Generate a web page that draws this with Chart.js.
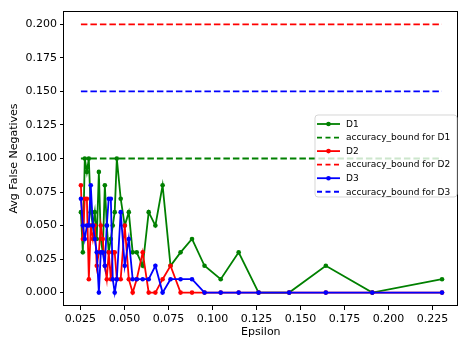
<!DOCTYPE html>
<html>
<head>
<meta charset="utf-8">
<script src="https://cdn.jsdelivr.net/npm/chart.js@4/dist/chart.umd.min.js"></script>
<style>
html,body{margin:0;padding:0;background:#fff;}
canvas{display:block;}
</style>
</head>
<body>
<canvas id="c" width="460" height="339"></canvas>
<script>
const epsilon = [0.0253,0.0264,0.0275,0.0287,0.0298,0.0309,0.0321,0.0332,0.0343,0.0355,0.0366,0.0377,0.0389,0.0400,0.0411,0.0423,0.0434,0.0445,0.0457,0.0479,0.0502,0.0525,0.0547,0.0570,0.0604,0.0638,0.0676,0.0717,0.0762,0.0819,0.0884,0.0955,0.1047,0.1149,0.1262,0.1436,0.1644,0.1908,0.2304];
const d1 = [0.06,0.03,0.10,0.09,0.10,0.06,0.05,0.06,0.04,0.09,0.04,0.03,0.08,0.05,0.03,0.04,0.05,0.06,0.10,0.07,0.05,0.06,0.03,0.03,0.02,0.06,0.05,0.08,0.02,0.03,0.04,0.02,0.01,0.03,0.00,0.00,0.02,0.00,0.01];
const d2 = [0.08,0.04,0.07,0.07,0.01,0.05,0.04,0.05,0.02,0.03,0.05,0.04,0.02,0.01,0.03,0.01,0.03,0.03,0.01,0.01,0.05,0.01,0.00,0.01,0.03,0.00,0.00,0.01,0.02,0.00,0.00,0.00,0.00,0.00,0.00,0.00,0.00,0.00,0.00];
const d3 = [0.07,0.05,0.04,0.05,0.05,0.08,0.05,0.04,0.03,0.00,0.03,0.03,0.02,0.05,0.07,0.07,0.01,0.00,0.01,0.06,0.02,0.04,0.01,0.01,0.01,0.01,0.02,0.00,0.01,0.01,0.01,0.00,0.00,0.00,0.00,0.00,0.00,0.00,0.00];
const bounds = [0.10, 0.20, 0.15];
const seriesNames = ['D1','D2','D3'];
const seriesColors = ['#008000','#ff0000','#0000ff'];
const xTicks = [0.025,0.050,0.075,0.100,0.125,0.150,0.175,0.200,0.225];
const yTicks = [0.000,0.025,0.050,0.075,0.100,0.125,0.150,0.175,0.200];

const FONT = "'DejaVu Sans', sans-serif";
const series = [d1,d2,d3];
const datasets = [];
series.forEach((vals,i)=>{
  datasets.push({
    label: seriesNames[i],
    data: epsilon.map((x,k)=>({x:x,y:vals[k]})),
    borderColor: seriesColors[i], backgroundColor: seriesColors[i],
    borderWidth: 1.8, pointRadius: 2.3, pointBorderWidth: 0, pointHoverRadius: 2.3,
    tension: 0, fill: false, order: 10 - 2*i, _dash: false
  });
  datasets.push({
    label: 'accuracy_bound for ' + seriesNames[i],
    data: [{x:epsilon[0],y:bounds[i]},{x:epsilon[epsilon.length-1],y:bounds[i]}],
    borderColor: seriesColors[i], backgroundColor: seriesColors[i],
    borderWidth: 1.8, borderDash: [6.5,3], pointRadius: 0,
    tension: 0, fill: false, order: 9 - 2*i, _dash: true
  });
});

const framePlugin = {
  id: 'frame',
  afterDatasetsDraw(chart){
    const a = chart.chartArea, ctx = chart.ctx;
    ctx.save();
    ctx.strokeStyle = '#000'; ctx.lineWidth = 1;
    ctx.strokeRect(Math.round(a.left)-0.5, Math.round(a.top)+0.5, Math.round(a.right-a.left), Math.round(a.bottom-a.top)-1);
    ctx.restore();
  },
  afterDraw(chart){
    const ctx = chart.ctx;
    const bx = 315, by = 115, bw = 142, bh = 82, r = 3;
    ctx.save();
    ctx.beginPath();
    ctx.moveTo(bx+r,by); ctx.lineTo(bx+bw-r,by); ctx.quadraticCurveTo(bx+bw,by,bx+bw,by+r);
    ctx.lineTo(bx+bw,by+bh-r); ctx.quadraticCurveTo(bx+bw,by+bh,bx+bw-r,by+bh);
    ctx.lineTo(bx+r,by+bh); ctx.quadraticCurveTo(bx,by+bh,bx,by+bh-r);
    ctx.lineTo(bx,by+r); ctx.quadraticCurveTo(bx,by,bx+r,by);
    ctx.closePath();
    ctx.fillStyle = 'rgba(255,255,255,0.8)'; ctx.fill();
    ctx.strokeStyle = 'rgba(204,204,204,0.8)'; ctx.lineWidth = 1; ctx.stroke();
    ctx.font = '9px ' + FONT; ctx.textBaseline = 'middle'; ctx.textAlign = 'left';
    chart.data.datasets.forEach((ds,i)=>{
      const y = 124 + i*13.55;
      ctx.strokeStyle = ds.borderColor; ctx.lineWidth = 1.8;
      ctx.setLineDash(ds._dash ? [5,3.5] : []);
      ctx.beginPath(); ctx.moveTo(317, y); ctx.lineTo(340, y); ctx.stroke();
      ctx.setLineDash([]);
      if (!ds._dash){
        ctx.fillStyle = ds.borderColor; ctx.beginPath(); ctx.arc(328.5, y, 2.3, 0, Math.PI*2); ctx.fill();
      }
      ctx.fillStyle = '#000'; ctx.fillText(ds.label, 346, y+0.5);
    });
    ctx.restore();
  }
};

new Chart(document.getElementById('c'), {
  type: 'line',
  data: { datasets },
  options: {
    responsive: false, animation: false, devicePixelRatio: 1,
    layout: { padding: { top: 11, right: 1, left: 0, bottom: 0 } },
    plugins: { legend: { display: false }, tooltip: { enabled: false } },
    scales: {
      x: {
        type: 'linear', min: 0.0157, max: 0.2393,
        afterBuildTicks(s){ s.ticks = xTicks.map(v=>({value:v})); },
        afterFit(s){ s.height = 33; },
        ticks: { callback: v => v.toFixed(3), color: '#000', font: { family: FONT, size: 11 }, padding: 3, maxRotation: 0, autoSkip: false },
        grid: { drawOnChartArea: false, drawTicks: true, tickLength: 4, color: '#000', lineWidth: 1 },
        border: { display: false },
        title: { display: true, text: 'Epsilon', color: '#000', font: { family: FONT, size: 11 }, padding: { top: 0, bottom: 0 } }
      },
      y: {
        type: 'linear', min: -0.01, max: 0.21,
        afterBuildTicks(s){ s.ticks = yTicks.map(v=>({value:v})); },
        afterFit(s){ s.width = 64; },
        ticks: { callback: v => v.toFixed(3), color: '#000', font: { family: FONT, size: 11 }, padding: 3, autoSkip: false },
        grid: { drawOnChartArea: false, drawTicks: true, tickLength: 4, color: '#000', lineWidth: 1 },
        border: { display: false },
        title: { display: true, text: 'Avg False Negatives', color: '#000', font: { family: FONT, size: 11 }, padding: { top: 8, bottom: 0 } }
      }
    }
  },
  plugins: [framePlugin]
});
</script>
</body>
</html>
